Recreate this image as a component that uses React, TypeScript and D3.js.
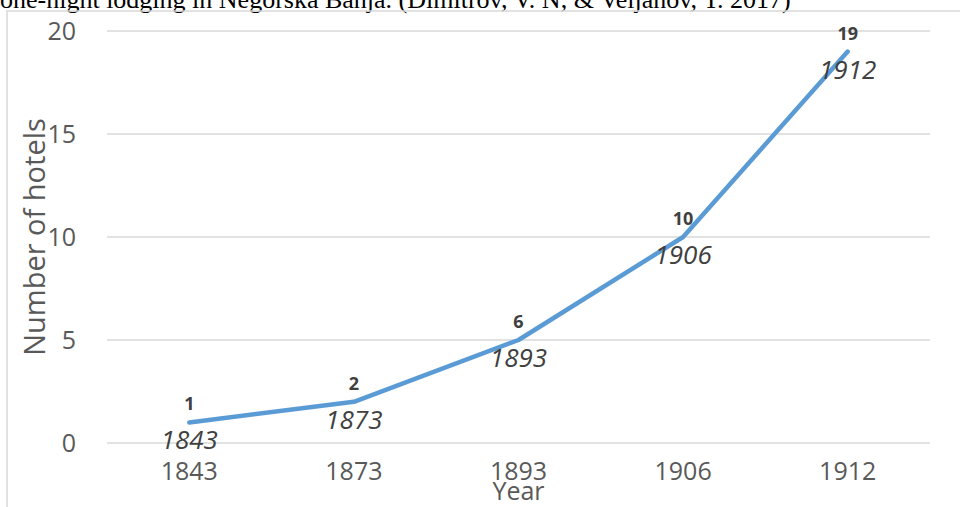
import { useRef, useEffect } from 'react';
import * as d3 from 'd3';

// Hotels in Negorska Banja by year
const years = ["1843", "1873", "1893", "1906", "1912"];
const hotels = [1, 2, 5, 10, 19];
const valueLabels = ["1", "2", "6", "10", "19"];
const yTicks = [0, 5, 10, 15, 20];
const caption = "one-night lodging in Negorska Banja. (Dimitrov, V. N, & Veljanov, T. 2017)";

const FONT = "'Open Sans', 'DejaVu Sans', sans-serif";

export default function App() {
  const ref = useRef<SVGSVGElement>(null);

  useEffect(() => {
    if (!ref.current) return;
    const width = 960;
    const height = 507;
    const margin = { top: 31, right: 30, bottom: 64, left: 107 };

    const svg = d3.select(ref.current)
      .attr('width', width)
      .attr('height', height);
    svg.selectAll("*").remove();

    svg.append("rect")
      .attr("width", width)
      .attr("height", height)
      .attr("fill", "#fff");

    // caption cut off at the top
    svg.append("text")
      .attr("x", 0)
      .attr("y", 8)
      .style("font-family", "'Liberation Serif', 'Times New Roman', serif")
      .style("font-size", "26px")
      .attr("fill", "#000")
      .text(caption);

    // chart frame
    svg.append("rect")
      .attr("x", 7)
      .attr("y", 11)
      .attr("width", 980)
      .attr("height", 520)
      .attr("fill", "none")
      .attr("stroke", "#d9d9d9")
      .attr("stroke-width", 1.5);

    const x = d3.scaleBand()
      .domain(years)
      .range([margin.left, width - margin.right]);

    const y = d3.scaleLinear()
      .domain([0, 20])
      .range([height - margin.bottom, margin.top]);

    const cx = (d: string) => x(d)! + x.bandwidth() / 2;

    // gridlines
    svg.append("g")
      .selectAll("line")
      .data(yTicks)
      .join("line")
      .attr("x1", margin.left)
      .attr("x2", width - margin.right)
      .attr("y1", d => y(d))
      .attr("y2", d => y(d))
      .attr("stroke", "#d9d9d9")
      .attr("stroke-width", 1.5);

    // y tick labels
    svg.append("g")
      .selectAll("text")
      .data(yTicks)
      .join("text")
      .attr("x", 76)
      .attr("y", d => y(d) + 9)
      .attr("text-anchor", "end")
      .style("font-family", FONT)
      .style("font-size", "25px")
      .attr("fill", "#595959")
      .text(d => d);

    // x tick labels
    svg.append("g")
      .selectAll("text")
      .data(years)
      .join("text")
      .attr("x", d => cx(d))
      .attr("y", 480)
      .attr("text-anchor", "middle")
      .style("font-family", FONT)
      .style("font-size", "25px")
      .attr("fill", "#595959")
      .text(d => d);

    // axis titles
    svg.append("text")
      .attr("x", cx("1893"))
      .attr("y", 500)
      .attr("text-anchor", "middle")
      .style("font-family", FONT)
      .style("font-size", "25px")
      .attr("fill", "#595959")
      .text("Year");

    svg.append("text")
      .attr("transform", `translate(45,${237}) rotate(-90)`)
      .attr("text-anchor", "middle")
      .style("font-family", FONT)
      .style("font-size", "29px")
      .attr("fill", "#595959")
      .text("Number of hotels");

    // line
    const line = d3.line<number>()
      .x((_, i) => cx(years[i]))
      .y(d => y(d));

    svg.append("path")
      .datum(hotels)
      .attr("fill", "none")
      .attr("stroke", "#5b9bd5")
      .attr("stroke-width", 4.5)
      .attr("stroke-linejoin", "round")
      .attr("stroke-linecap", "round")
      .attr("d", line);

    // data labels
    svg.append("g")
      .selectAll("text")
      .data(hotels)
      .join("text")
      .attr("x", (_, i) => cx(years[i]))
      .attr("y", d => y(d) - 12)
      .attr("text-anchor", "middle")
      .style("font-family", FONT)
      .style("font-size", "18px")
      .style("font-weight", "bold")
      .attr("fill", "#404040")
      .text((_, i) => valueLabels[i]);

    svg.append("g")
      .selectAll("text")
      .data(hotels)
      .join("text")
      .attr("x", (_, i) => cx(years[i]))
      .attr("y", d => y(d) + 27)
      .attr("text-anchor", "middle")
      .style("font-family", FONT)
      .style("font-size", "26px")
      .style("font-style", "italic")
      .attr("fill", "#404040")
      .text((_, i) => years[i]);
  }, []);

  return (
    <svg ref={ref} style={{ position: 'absolute', left: 0, top: 0, display: 'block' }}></svg>
  );
}
